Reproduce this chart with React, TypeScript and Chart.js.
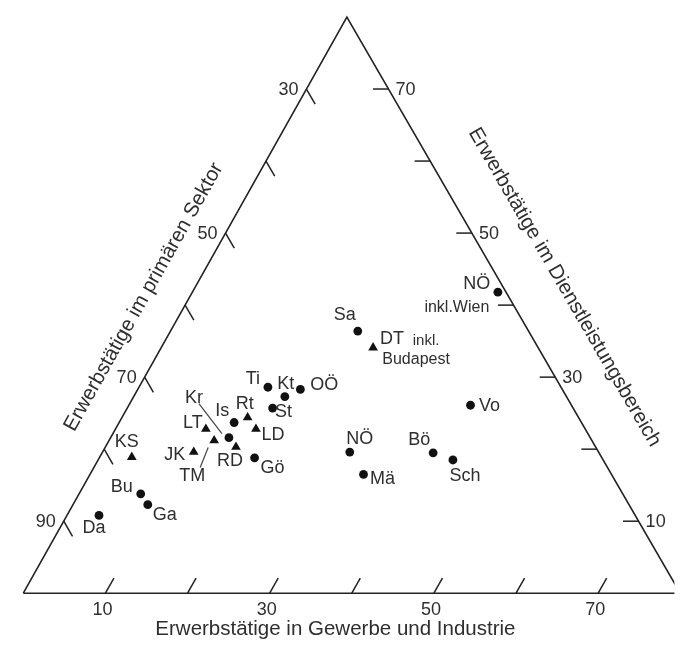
import React, { useEffect, useRef } from "react";
import { Chart, registerables } from "chart.js";

Chart.register(...registerables);

// ---------- data (shares of employed persons, %) ----------
const NAMES = ["Ti", "Kt", "OÖ", "St", "Rt", "Is", "LD", "LT", "Kr", "TM", "RD", "JK", "Gö", "KS", "Bu", "Ga", "Da", "Sa", "DT", "NÖ", "Mä", "Bö", "Sch", "Vo", "NÖ"];
const PRIMARY = [55.7, 54.3, 51.9, 56.6, 60.3, 62.3, 60.1, 66.2, 64.0, 66.0, 63.8, 69.3, 62.3, 77.2, 78.7, 78.6, 85.3, 40.8, 40.1, 50.3, 50.2, 40.2, 38.3, 32.3, 21.0];
const INDUSTRY = [15.7, 18.4, 19.8, 17.7, 15.3, 14.0, 17.1, 11.0, 14.4, 12.8, 15.9, 11.1, 18.9, 3.9, 7.5, 9.1, 3.9, 22.8, 25.8, 30.1, 33.3, 40.3, 43.2, 41.6, 37.2];
const SERVICES = [28.6, 27.3, 28.3, 25.7, 24.4, 23.7, 22.8, 22.8, 21.6, 21.2, 20.3, 19.6, 18.8, 18.9, 13.8, 12.3, 10.8, 36.4, 34.1, 19.6, 16.5, 19.5, 18.5, 26.1, 41.8];
const MARKER = ["circle", "circle", "circle", "circle", "triangle", "circle", "triangle", "triangle", "circle", "triangle", "triangle", "triangle", "circle", "triangle", "circle", "circle", "circle", "circle", "triangle", "circle", "circle", "circle", "circle", "circle", "circle"];

// notes attached to points (index, text)
const NOTE_INDEX = [18, 18, 24];
const NOTE_TEXT = ["inkl.", "Budapest", "inkl.Wien"];

// diagram range: primary sector from 20 % to 100 %
const PRIMARY_MIN = 20;
const VERT_PRIMARY = [100, 20, 20, 100];
const VERT_INDUSTRY = [0, 0, 80, 0];
const VERT_SERVICES = [0, 80, 0, 0];

const INDUSTRY_TICKS = [10, 20, 30, 40, 50, 60, 70];
const INDUSTRY_LABELS = ["10", "30", "50", "70"];
const PRIMARY_TICKS = [30, 40, 50, 60, 70, 80, 90];
const PRIMARY_LABELS = ["30", "50", "70", "90"];
const SERVICE_TICKS = [10, 20, 30, 40, 50, 60, 70];
const SERVICE_LABELS = ["10", "30", "50", "70"];

const TITLE_BOTTOM = "Erwerbstätige in Gewerbe und Industrie";
const TITLE_LEFT = "Erwerbstätige im primären Sektor";
const TITLE_RIGHT = "Erwerbstätige im Dienstleistungsbereich";

// ---------- layout / style ----------
const W = 680;
const H = 646;
const ORIGIN_X = 18;
const ORIGIN_Y = 598;
const PX_X = 8.35;
const PX_Y = 7.33;
const SKEW = 0.4925;

const LABEL_OFFSETS: [number, number][] = [
  [-15, -8], [1, -13], [24, -4], [11, 4], [-3, -13], [-12, -11], [17, 6], [-13, -6],
  [-35, -40], [-22, 36], [-6, 14], [-19, 3], [18, 10], [-5, -15], [-19, -7], [17, 10],
  [-5, 13], [-13, -16], [19, -9], [10, -13], [19, 5], [-14, -13], [12, 16], [19, 1], [-21, -8],
];
const NOTE_OFFSETS: [number, number, number][] = [
  [53, -7, 15], [43, 12, 16], [-41, 15, 16],
];
const LEADERS: { idx: number; from: [number, number]; to: [number, number] }[] = [
  { idx: 8, from: [-30, -34], to: [-7, -4] },
  { idx: 9, from: [-14, 27], to: [-6, 7] },
];

const FONT = "'Liberation Sans', Arial, sans-serif";
const LINE_COLOR = "#222";
const TEXT_COLOR = "#2e2e2e";
const MARK_COLOR = "#111";

const toX = (i: number, d: number) => i + SKEW * d;

const decorPlugin = {
  id: "ternaryDecor",
  afterDatasetsDraw(chart: any) {
    const ctx: CanvasRenderingContext2D = chart.ctx;
    const xs = chart.scales.x;
    const ys = chart.scales.y;
    const pt = (i: number, d: number): [number, number] => [xs.getPixelForValue(toX(i, d)), ys.getPixelForValue(d)];
    const seg = (a: [number, number], b: [number, number]) => {
      ctx.beginPath();
      ctx.moveTo(a[0], a[1]);
      ctx.lineTo(b[0], b[1]);
      ctx.stroke();
    };
    const span = 100 - PRIMARY_MIN;
    ctx.save();
    ctx.strokeStyle = LINE_COLOR;
    ctx.lineWidth = 1.5;
    ctx.lineCap = "butt";
    // ticks
    INDUSTRY_TICKS.forEach((v) => seg(pt(v, 0), pt(v, 2.1)));
    PRIMARY_TICKS.forEach((p) => {
      const d = 100 - p;
      seg(pt(0, d), pt(2.1, d - 2.1));
    });
    SERVICE_TICKS.forEach((d) => seg(pt(span - d, d), pt(span - d - 1.9, d)));

    // tick labels
    ctx.fillStyle = TEXT_COLOR;
    ctx.font = `18px ${FONT}`;
    ctx.textAlign = "center";
    ctx.textBaseline = "middle";
    INDUSTRY_LABELS.forEach((s) => {
      const [x, y] = pt(Number(s), 0);
      ctx.fillText(s, x - 3, y + 17);
    });
    ctx.textAlign = "right";
    PRIMARY_LABELS.forEach((s) => {
      const [x, y] = pt(0, 100 - Number(s));
      ctx.fillText(s, x - 8, y + 1);
    });
    ctx.textAlign = "left";
    SERVICE_LABELS.forEach((s) => {
      const d = Number(s);
      const [x, y] = pt(span - d, d);
      ctx.fillText(s, x + 7, y + 1);
    });

    // axis titles
    ctx.font = `20.5px ${FONT}`;
    ctx.textAlign = "center";
    const bl = pt(0, 0);
    const top = pt(0, span);
    const br = pt(span, 0);
    const [bx] = pt(38, 0);
    ctx.fillText(TITLE_BOTTOM, bx, bl[1] + 36);
    {
      const dx = top[0] - bl[0], dy = top[1] - bl[1];
      const len = Math.hypot(dx, dy);
      const ux = dx / len, uy = dy / len;
      const t = 0.48 * len;
      const cx = bl[0] + ux * t + uy * 40;
      const cy = bl[1] + uy * t - ux * 40;
      ctx.save();
      ctx.translate(cx, cy);
      ctx.rotate(Math.atan2(dy, dx));
      ctx.fillText(TITLE_LEFT, 0, 0);
      ctx.restore();
    }
    {
      const dx = br[0] - top[0], dy = br[1] - top[1];
      const len = Math.hypot(dx, dy);
      const ux = dx / len, uy = dy / len;
      const t = 0.515 * len;
      const cx = top[0] + ux * t + uy * 53;
      const cy = top[1] + uy * t - ux * 53;
      ctx.save();
      ctx.translate(cx, cy);
      ctx.rotate(Math.atan2(dy, dx));
      ctx.fillText(TITLE_RIGHT, 0, 0);
      ctx.restore();
    }

    // point labels
    ctx.font = `18px ${FONT}`;
    ctx.textAlign = "center";
    NAMES.forEach((name, i) => {
      const [x, y] = pt(INDUSTRY[i], SERVICES[i]);
      const [ox, oy] = LABEL_OFFSETS[i];
      ctx.fillText(name, x + ox, y + oy);
    });
    NOTE_TEXT.forEach((s, k) => {
      const i = NOTE_INDEX[k];
      const [x, y] = pt(INDUSTRY[i], SERVICES[i]);
      const [ox, oy, size] = NOTE_OFFSETS[k];
      ctx.font = `${size}px ${FONT}`;
      ctx.fillText(s, x + ox, y + oy);
    });
    // leader lines
    ctx.strokeStyle = "#444";
    ctx.lineWidth = 1.2;
    LEADERS.forEach((l) => {
      const [x, y] = pt(INDUSTRY[l.idx], SERVICES[l.idx]);
      seg([x + l.from[0], y + l.from[1]], [x + l.to[0], y + l.to[1]]);
    });
    ctx.restore();
  },
};

export default function App() {
  const ref = useRef<HTMLCanvasElement>(null);
  useEffect(() => {
    if (!ref.current) return;
    const outline = VERT_PRIMARY.map((_, k) => ({ x: toX(VERT_INDUSTRY[k], VERT_SERVICES[k]), y: VERT_SERVICES[k] }));
    const points = NAMES.map((_, i) => ({ x: toX(INDUSTRY[i], SERVICES[i]), y: SERVICES[i] }));
    const chart = new Chart(ref.current, {
      type: "scatter",
      data: {
        datasets: [
          {
            type: "line",
            data: outline,
            borderColor: LINE_COLOR,
            borderWidth: 1.6,
            pointRadius: 0,
            fill: false,
            tension: 0,
          } as any,
          {
            data: points,
            backgroundColor: MARK_COLOR,
            borderColor: MARK_COLOR,
            borderWidth: 0,
            pointStyle: MARKER.map((m) => m) as any,
            pointRadius: MARKER.map((m) => (m === "triangle" ? 5.6 : 4.4)),
          },
        ],
      },
      options: {
        responsive: false,
        maintainAspectRatio: false,
        animation: false,
        layout: { padding: 0 },
        plugins: { legend: { display: false }, tooltip: { enabled: false } },
        scales: {
          x: { type: "linear", display: false, min: -ORIGIN_X / PX_X, max: (W - ORIGIN_X) / PX_X },
          y: { type: "linear", display: false, min: -(H - ORIGIN_Y) / PX_Y, max: ORIGIN_Y / PX_Y },
        },
      },
      plugins: [decorPlugin],
    });
    return () => chart.destroy();
  }, []);
  return (
    <div style={{ position: "fixed", left: 0, top: 0, width: W, height: H, background: "#fff" }}>
      <canvas ref={ref} width={W} height={H} style={{ display: "block" }} />
    </div>
  );
}
